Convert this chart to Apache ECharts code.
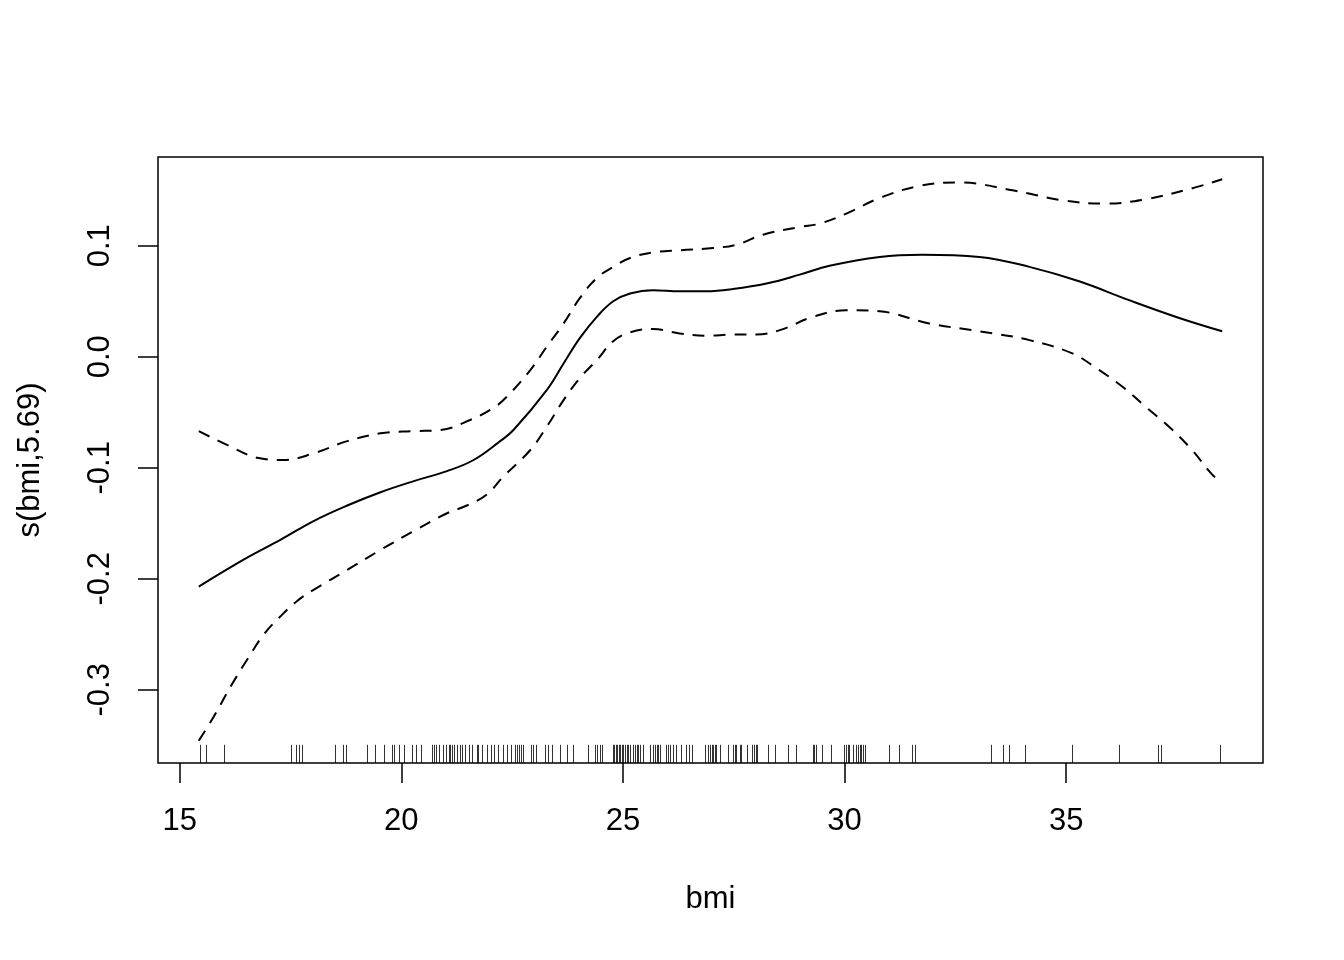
<!DOCTYPE html>
<html>
<head>
<meta charset="utf-8">
<script src="https://cdn.jsdelivr.net/npm/echarts@6/dist/echarts.min.js"></script>
<style>
html,body{margin:0;padding:0;background:#fff;}
#chart{width:1344px;height:960px;}
</style>
</head>
<body>
<div id="chart"></div>
<script>
// ---- data ----
var xTicks = [15, 20, 25, 30, 35];
var yTicks = [-0.3, -0.2, -0.1, 0.0, 0.1];

var fitX = [15.43,16.52,17.27,18.02,18.78,19.53,20.28,21.03,21.63,22.23,22.53,23.28,23.66,24.03,24.41,24.78,25.16,25.68,26.28,26.89,27.48,28.24,28.99,29.66,30.79,31.76,33.04,34.17,35.29,36.42,37.55,38.52];
var fitY = [-0.207,-0.181,-0.165,-0.148,-0.134,-0.122,-0.112,-0.103,-0.093,-0.076,-0.066,-0.030,-0.006,0.017,0.036,0.050,0.057,0.060,0.059,0.059,0.061,0.066,0.074,0.082,0.090,0.092,0.090,0.081,0.068,0.051,0.035,0.023];

var upperX = [15.43,16.15,16.75,17.35,18.02,18.78,19.53,20.28,20.88,21.55,22.08,22.38,22.91,23.28,23.66,24.03,24.41,24.78,25.16,25.68,26.28,27.03,27.56,28.16,28.99,29.44,30.04,30.79,31.69,32.59,33.79,34.92,35.89,36.79,37.77,38.52];
var upperY = [-0.067,-0.081,-0.091,-0.093,-0.087,-0.076,-0.069,-0.067,-0.066,-0.057,-0.046,-0.036,-0.012,0.009,0.030,0.053,0.071,0.081,0.089,0.094,0.096,0.098,0.101,0.110,0.117,0.120,0.129,0.143,0.154,0.157,0.150,0.141,0.138,0.142,0.151,0.160];

var lowerX = [15.43,15.77,16.15,16.52,16.90,17.27,17.65,18.02,18.78,19.53,20.28,21.03,21.48,21.93,22.30,22.91,23.28,23.66,24.03,24.41,24.78,25.16,25.68,26.28,26.89,27.48,28.01,28.54,29.29,30.04,30.79,31.91,33.04,34.17,35.14,35.67,36.27,36.79,37.32,37.84,38.29,38.52];
var lowerY = [-0.346,-0.324,-0.297,-0.273,-0.250,-0.234,-0.220,-0.210,-0.192,-0.174,-0.157,-0.141,-0.134,-0.124,-0.108,-0.084,-0.063,-0.039,-0.019,-0.003,0.014,0.022,0.025,0.021,0.019,0.020,0.020,0.024,0.036,0.042,0.041,0.030,0.023,0.015,0.003,-0.010,-0.027,-0.045,-0.063,-0.084,-0.106,-0.113];

var rugX = [15.45,15.59,16.01,17.52,17.62,17.69,17.77,18.51,18.68,18.75,19.23,19.41,19.60,19.79,19.83,19.94,20.07,20.24,20.32,20.44,20.70,20.74,20.79,20.84,20.94,21.01,21.07,21.10,21.14,21.19,21.25,21.33,21.37,21.44,21.52,21.59,21.70,21.74,21.82,21.93,22.02,22.09,22.19,22.29,22.38,22.47,22.57,22.61,22.66,22.70,22.75,22.92,22.98,23.04,23.24,23.32,23.39,23.58,23.73,23.88,24.22,24.37,24.41,24.48,24.52,24.77,24.80,24.84,24.87,24.90,24.93,24.97,25.01,25.05,25.08,25.12,25.16,25.22,25.27,25.31,25.34,25.38,25.46,25.61,25.67,25.72,25.76,25.80,25.83,25.98,26.02,26.07,26.13,26.19,26.32,26.43,26.49,26.55,26.85,26.92,26.96,27.00,27.03,27.07,27.11,27.18,27.36,27.48,27.52,27.56,27.64,27.67,27.79,27.92,27.95,28.00,28.03,28.27,28.44,28.72,28.91,29.29,29.32,29.36,29.48,29.70,29.98,30.04,30.07,30.11,30.19,30.26,30.30,30.34,30.38,30.41,30.45,31.01,31.22,31.52,31.59,33.30,33.57,33.72,34.07,35.14,36.19,37.06,37.13,38.48];

var xTitle = 'bmi';
var yTitle = 's(bmi,5.69)';

// ---- chart ----
var X_MIN = 14.51, X_MAX = 39.44, Y_MIN = -0.366, Y_MAX = 0.180;
var FONT = '"Liberation Sans", Arial, Helvetica, sans-serif';
var FS = 31;

function pairs(xs, ys) { return xs.map(function (x, i) { return [x, ys[i]]; }); }

var chart = echarts.init(document.getElementById('chart'), null, { renderer: 'canvas' });
chart.setOption({
  backgroundColor: '#ffffff',
  animation: false,
  grid: {
    left: 158, right: 81, top: 157, bottom: 197,
    show: true, borderColor: '#000', borderWidth: 1.5, backgroundColor: 'transparent'
  },
  xAxis: {
    type: 'value', min: X_MIN, max: X_MAX,
    name: xTitle, nameLocation: 'middle', nameGap: 121,
    nameTextStyle: { fontFamily: FONT, fontSize: FS, color: '#000' },
    axisLine: { show: false, onZero: false },
    splitLine: { show: false },
    axisTick: { show: true, inside: false, length: 20, customValues: xTicks, lineStyle: { color: '#000', width: 1.5 } },
    axisLabel: { show: true, margin: 43, customValues: xTicks, fontFamily: FONT, fontSize: FS, color: '#000',
      formatter: function (v) { return String(Math.round(v)); } }
  },
  yAxis: {
    type: 'value', min: Y_MIN, max: Y_MAX,
    name: yTitle, nameLocation: 'middle', nameGap: 112, nameRotate: 90,
    nameTextStyle: { fontFamily: FONT, fontSize: FS, color: '#000' },
    axisLine: { show: false, onZero: false },
    splitLine: { show: false },
    axisTick: { show: true, inside: false, length: 20, customValues: yTicks, lineStyle: { color: '#000', width: 1.5 } },
    axisLabel: { show: true, margin: 42, rotate: 90, customValues: yTicks, fontFamily: FONT, fontSize: FS, color: '#000',
      formatter: function (v) { return (Math.round(v * 10) / 10).toFixed(1); } }
  },
  series: [
    {
      type: 'line', name: 'fit', data: pairs(fitX, fitY), smooth: 0.4,
      showSymbol: false, symbol: 'none', clip: true,
      lineStyle: { color: '#000', width: 2 }
    },
    {
      type: 'line', name: 'upper', data: pairs(upperX, upperY), smooth: 0.4,
      showSymbol: false, symbol: 'none', clip: true,
      lineStyle: { color: '#000', width: 2, type: [12, 9], cap: 'butt' }
    },
    {
      type: 'line', name: 'lower', data: pairs(lowerX, lowerY), smooth: 0.4,
      showSymbol: false, symbol: 'none', clip: true,
      lineStyle: { color: '#000', width: 2, type: [12, 9], cap: 'butt' }
    },
    {
      type: 'custom', name: 'rug',
      data: rugX.map(function (x) { return [x]; }),
      encode: { x: 0 },
      renderItem: function (params, api) {
        var p = api.coord([api.value(0), Y_MIN]);
        var h = params.coordSys.height * 0.03;
        var x = Math.round(p[0]) + 0.5;
        return {
          type: 'line',
          shape: { x1: x, y1: p[1], x2: x, y2: p[1] - h },
          style: { stroke: '#000', lineWidth: 1, opacity: 0.8 }
        };
      }
    }
  ]
});
</script>
</body>
</html>
